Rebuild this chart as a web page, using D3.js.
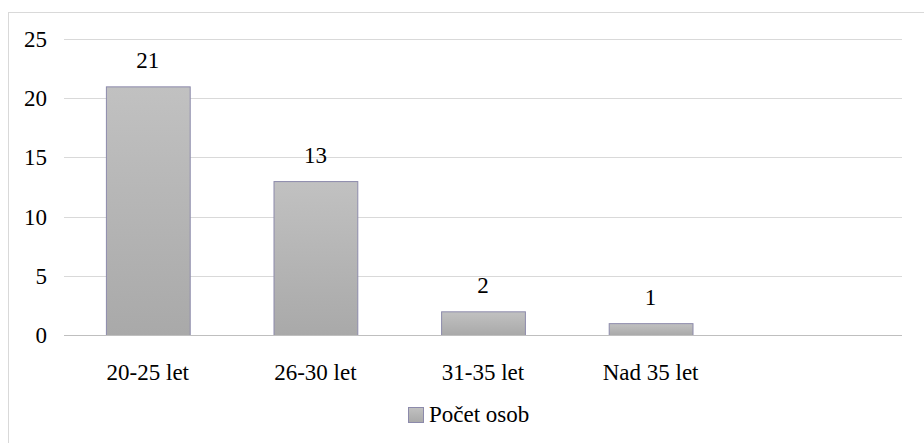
<!DOCTYPE html>
<html><head><meta charset="utf-8">
<script src="https://cdn.jsdelivr.net/npm/d3@7"></script>
<style>body{margin:0;background:#fff}</style>
</head><body>
<script>
const categories = ["20-25 let", "26-30 let", "31-35 let", "Nad 35 let", ""];
const values = [21, 13, 2, 1, null];
const yTicks = [0, 5, 10, 15, 20, 25];
const seriesName = "Počet osob";

const W = 924, H = 443;
const svg = d3.select("body").append("svg").attr("width", W).attr("height", H);
const TS = 'font-family:"Times New Roman", "Liberation Serif", Tinos, monospace;font-size:23px;fill:#000';

const defs = svg.append("defs");
const grad = defs.append("linearGradient").attr("id", "bg").attr("x1", 0).attr("y1", 0).attr("x2", 0).attr("y2", 1);
grad.append("stop").attr("offset", "0%").attr("stop-color", "#c1c1c1");
grad.append("stop").attr("offset", "100%").attr("stop-color", "#a9a9a9");

svg.append("rect").attr("x", 8.5).attr("y", 12.5).attr("width", 940).attr("height", 440)
  .attr("fill", "none").attr("stroke", "#d9d9d9");

const x = d3.scaleBand().domain(d3.range(categories.length)).range([64, 902]).paddingInner(0.5).paddingOuter(0.25);
const y = d3.scaleLinear().domain([0, 25]).range([335, 39]);

svg.append("g").selectAll("line").data(yTicks.filter(d => d > 0)).join("line")
  .attr("x1", 64).attr("x2", 902).attr("y1", d => Math.round(y(d)) + 0.5).attr("y2", d => Math.round(y(d)) + 0.5)
  .attr("stroke", "#d9d9d9");

// y tick labels (scale ticks)
svg.append("g").selectAll("text").data(yTicks).join("text")
  .attr("x", 47).attr("y", d => y(d)).attr("dy", "0.35em").attr("text-anchor", "end")
  .attr("style", TS).text(d => d);

svg.append("g").selectAll("rect").data(values.map((v, i) => ({v, i})).filter(d => d.v != null)).join("rect")
  .attr("x", d => x(d.i) + 0.5).attr("width", x.bandwidth())
  .attr("y", d => y(d.v) + 0.5).attr("height", d => y(0) - y(d.v))
  .attr("fill", "url(#bg)").attr("stroke", "#8c8aab").attr("stroke-width", 1);

svg.append("line").attr("x1", 64).attr("x2", 902).attr("y1", 335.5).attr("y2", 335.5).attr("stroke", "#bfbfbf");

svg.append("g").selectAll("text").data(values.map((v, i) => ({v, i})).filter(d => d.v != null)).join("text")
  .attr("x", d => x(d.i) + x.bandwidth() / 2).attr("y", d => y(d.v) - 18)
  .attr("text-anchor", "middle").attr("style", TS).text(d => d.v);

// category labels
svg.append("g").selectAll("text").data(categories.map((c, i) => ({c, i})).filter(d => d.c)).join("text")
  .attr("x", d => x(d.i) + x.bandwidth() / 2).attr("y", 380)
  .attr("text-anchor", "middle").attr("style", TS).text(d => d.c);

const lg = svg.append("g");
lg.append("rect").attr("x", 408.5).attr("y", 407.5).attr("width", 15).attr("height", 15)
  .attr("fill", "url(#bg)").attr("stroke", "#8c8aab");
lg.append("text").attr("x", 429).attr("y", 422).attr("style", TS).text(seriesName);
</script>
</body></html>
